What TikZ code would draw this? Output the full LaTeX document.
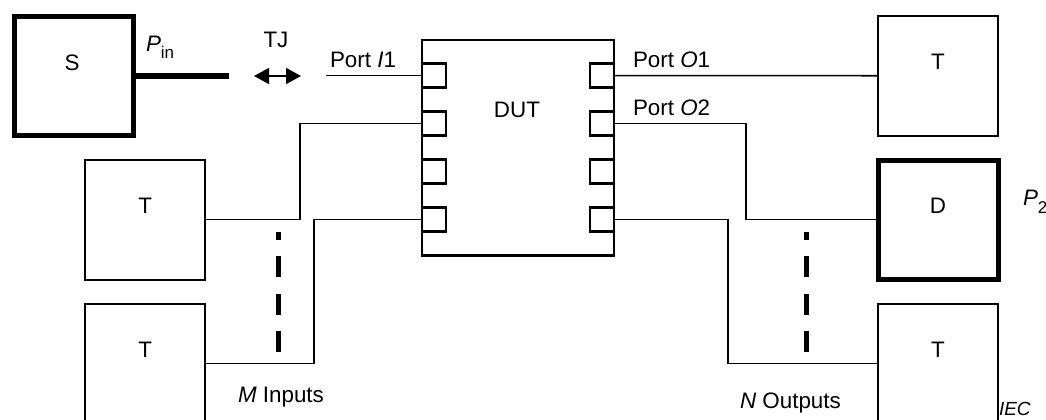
\documentclass[tikz,border=0pt]{standalone}
\usepackage{fontspec}
\setmainfont{Liberation Sans}
\usetikzlibrary{arrows.meta,calc}
\begin{document}
\begin{tikzpicture}[x=0.5pt,y=-0.5pt,
  box/.style={draw, line width=1pt, inner sep=0, outer sep=0, minimum width=60pt, minimum height=60pt},
  thickbox/.style={box, line width=2.5pt},
  dutbox/.style={draw, line width=1.15pt, inner sep=0, outer sep=0, minimum width=96pt, minimum height=107.75pt},
  portbox/.style={draw, line width=1.15pt, inner sep=0, outer sep=0, minimum size=12pt},
  wire/.style={line width=0.8pt},
  thickwire/.style={line width=2.9pt},
  dots/.style={line width=2.5pt, dash pattern=on 10.5pt off 8.25pt},
  lab/.style={inner sep=0, outer sep=0, font=\fontsize{11.2}{13}\selectfont},
  small/.style={inner sep=0, outer sep=0, font=\fontsize{9.5}{11}\selectfont\itshape},
  tip/.tip={Triangle[length=7.5pt,width=8pt]}]
\useasboundingbox (0,0) rectangle (1046,419);

% boxes
\node[thickbox, minimum width=59.5pt, minimum height=59.25pt] (S) at (73.5,76) {};
\node[box] (Ttr) at (938,75.7) {};
\node[box] (Tml) at (145.3,219.5) {};
\node[box] (Tbl) at (145.3,363.5) {};
\node[box] (Tbr) at (938,363.5) {};
\node[thickbox, minimum width=60pt, minimum height=59.5pt] (D) at (938,219.5) {};

% DUT and ports
\node[dutbox] (DUT) at (518,147.75) {};
\foreach \i/\y in {1/75.6,2/123.6,3/171.6,4/219.6}{
  \node[portbox] (pL\i) at (434,\y) {};
  \node[portbox] (pR\i) at (602,\y) {};
}

% labels in boxes
\foreach \b in {Ttr,Tml,Tbl,Tbr}{
  \node[lab, anchor=base] (\b lab) at ($(\b.north)+(0,54)$) {T};
}
\node[lab, anchor=base] (Slab) at ($(S.north)+(-1.5,54)$) {S};
\node[lab, anchor=base] (Dlab) at ($(D.north)+(0,53)$) {D};
\node[lab, anchor=base] (DUTlab) at (517,117) {DUT};

% coordinates
\coordinate (pinEnd) at (228.5,76);
\coordinate (i1Start) at (326,75.6);
\coordinate (tjL) at (254,76);
\coordinate (tjR) at (301,76);
\coordinate (bA) at (300,123.6);
\coordinate (bB) at (314,219.6);
\coordinate (bC) at (746,219.5);
\coordinate (bD) at (728,363.5);
\coordinate (dL1) at (278,352);
\coordinate (dL2) at (278,232);
\coordinate (dR1) at (806,352);
\coordinate (dR2) at (806,232);

% connectors
\draw[thickwire] (S.east) -- (pinEnd);
\draw[wire, tip-tip] (tjL) -- (tjR);
\draw[wire] (i1Start) -- (pL1.west);
\draw[wire] (Tml.east) -| (bA) -- (pL2.west);
\draw[wire] (Tbl.east) -| (bB) -- (pL4.west);
\draw[wire] (pR1.east) -- (Ttr.west);
\draw[wire] (pR2.east) -| (bC) -- (D.west);
\draw[wire] (pR4.east) -| (bD) -- (Tbr.west);
\draw[dots] (dL1) -- (dL2);
\draw[dots] (dR1) -- (dR2);

% texts
\node[lab, anchor=base west] (pinlab) at (146,51) {\textit{P}\raisebox{-3.5pt}{\fontsize{8.5}{10}\selectfont in}};
\node[lab, anchor=base] (tjlab) at (276,47) {TJ};
\node[lab, anchor=base west] (i1lab) at (330,67) {Port \textit{I}1};
\node[lab, anchor=base west] (o1lab) at (633,67) {Port \textit{O}1};
\node[lab, anchor=base west] (o2lab) at (633,115) {Port \textit{O}2};
\node[lab, anchor=base west] (p2lab) at (1023,205) {\textit{P}\raisebox{-4pt}{\fontsize{8.5}{10}\selectfont 2}};
\node[lab, anchor=base west] (mlab) at (238,402) {\textit{M} Inputs};
\node[lab, anchor=base west] (nlab) at (740,408) {\textit{N} Outputs};
\node[small, anchor=base west] (ieclab) at (999,415) {IEC};
\end{tikzpicture}
\end{document}
